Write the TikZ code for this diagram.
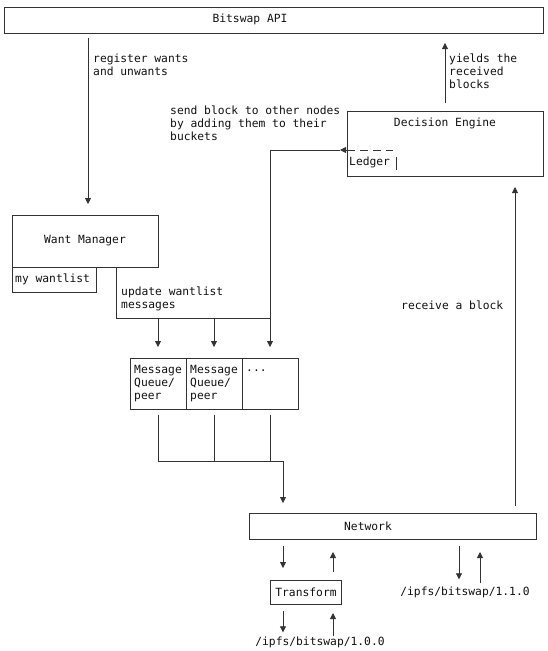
\documentclass[tikz,border=0pt]{standalone}
\usepackage{fontspec}
\setmonofont{DejaVu Sans Mono}
\usetikzlibrary{arrows.meta}
\definecolor{linec}{HTML}{333333}
\definecolor{textc}{HTML}{111111}
\begin{document}
\begin{tikzpicture}[x=1pt,y=-1pt,
  ln/.style={draw=linec, line width=0.8pt},
  arr/.style={ln, -{Triangle[width=6pt,length=6pt]}},
  box/.style={draw=linec, line width=0.8pt, rectangle, inner sep=0pt, outer sep=0pt},
  txt/.style={font=\ttfamily\fontsize{11.3}{12.9}\selectfont, text=textc, inner sep=0pt, align=left},
]
\useasboundingbox (0,0) rectangle (547,651);
% boxes
\node[box, minimum width=539pt, minimum height=26pt] (api) at (273.5,20) {};
\node[box, minimum width=196pt, minimum height=65pt] (de) at (445,143.5) {};
\node[box, minimum width=146pt, minimum height=52pt] (wm) at (85,241) {};
\node[box, minimum width=84pt, minimum height=25pt] (mwl) at (54,279.5) {};
\node[box, minimum width=56pt, minimum height=51pt] (mq1) at (158,383.5) {};
\node[box, minimum width=56pt, minimum height=51pt] (mq2) at (214,383.5) {};
\node[box, minimum width=56pt, minimum height=51pt] (mq3) at (270,383.5) {};
\node[box, minimum width=287pt, minimum height=26pt] (net) at (392.5,526) {};
\node[box, minimum width=71pt, minimum height=24pt] (tr) at (305.5,592) {};
% texts
\node[txt] (apit) at (250,19.5) {Bitswap API};
\node[txt] (det) at (445,123.5) {Decision Engine};
\node[txt, anchor=west] (ledger) at (349,162) {Ledger};
\node[txt] (wmt) at (85,240.5) {Want Manager};
\node[txt, anchor=west] (mwlt) at (15,279.5) {my wantlist};
\node[txt, anchor=west] (mq1t) at (134,383.5) {Message\\Queue/\\peer};
\node[txt, anchor=west] (mq2t) at (190,383.5) {Message\\Queue/\\peer};
\node[txt, anchor=west] (mq3t) at (246,370.5) {...};
\node[txt] (nett) at (368,526) {Network};
\node[txt] (trt) at (306,592) {Transform};
\node[txt, anchor=west] (regt) at (93,65) {register wants\\and unwants};
\node[txt, anchor=west] (yldt) at (449,71.5) {yields the\\received\\blocks};
\node[txt, anchor=west] (sendt) at (170,123) {send block to other nodes\\by adding them to their\\buckets};
\node[txt, anchor=west] (updt) at (121,298.5) {update wantlist\\messages};
\node[txt, anchor=west] (rcvt) at (401,305) {receive a block};
\node[txt] (ipf0) at (320,642) {/ipfs/bitswap/1.0.0};
\node[txt] (ipf1) at (465,592) {/ipfs/bitswap/1.1.0};
% helper coordinates
\coordinate (xreg) at (88,0);
\coordinate (xrcv) at (515,0);
\coordinate (ly) at (0,150);
\coordinate (ledgerend) at (393,150);
\coordinate (xu) at (116,0);
\coordinate (yu) at (0,318);
\coordinate (yl) at (0,461);
\coordinate (xn) at (283,0);
\coordinate (xt) at (333,0);
\coordinate (xr1) at (459,0);
\coordinate (xr2) at (480,0);
\coordinate (barA) at (396,157);
\coordinate (barB) at (396,170);
% connectors
\draw[arr, shorten <=5pt, shorten >=11pt] (api.south -| xreg) -- (wm.north -| xreg);
\draw[arr, shorten <=8pt, shorten >=10pt] (de.north) -- (api.south -| de.north);
\draw[arr, shorten <=7pt, shorten >=11pt] (net.north -| xrcv) -- (de.south -| xrcv);
\draw[ln, dash pattern=on 8pt off 5pt] (de.west |- ly) -- (ledgerend);
\draw[ln] (barA) -- (barB);
\draw[arr] (de.west |- ly) -- ++(-7,0);
\draw[arr, shorten >=11pt] ([xshift=-7pt]de.west |- ly) -| (mq3.north);
\draw[ln] (wm.south -| xu) -- (xu |- yu) -- (mq3.north |- yu);
\draw[arr, shorten >=11pt] (mq1.north |- yu) -- (mq1.north);
\draw[arr, shorten >=11pt] (mq2.north |- yu) -- (mq2.north);
\draw[ln, shorten <=6pt] (mq1.south) -- (mq1.south |- yl) -- (xn |- yl);
\draw[ln, shorten <=6pt] (mq2.south) -- (mq2.south |- yl);
\draw[ln, shorten <=6pt] (mq3.south) -- (mq3.south |- yl);
\draw[arr, shorten >=10pt] (xn |- yl) -- (net.north -| xn);
\draw[arr, shorten <=7pt, shorten >=12pt] (net.south -| xn) -- (tr.north -| xn);
\draw[arr, shorten <=8pt, shorten >=13pt] (tr.north -| xt) -- (net.south -| xt);
\draw[arr, shorten <=7pt, shorten >=4pt] (tr.south -| xn) -- (ipf0.north -| xn);
\draw[arr, shorten <=0pt, shorten >=9pt] (ipf0.north -| xt) -- (tr.south -| xt);
\draw[arr, shorten <=7pt, shorten >=7pt] (net.south -| xr1) -- (ipf1.north -| xr1);
\draw[arr, shorten <=3pt, shorten >=13pt] (ipf1.north -| xr2) -- (net.south -| xr2);
\end{tikzpicture}
\end{document}
